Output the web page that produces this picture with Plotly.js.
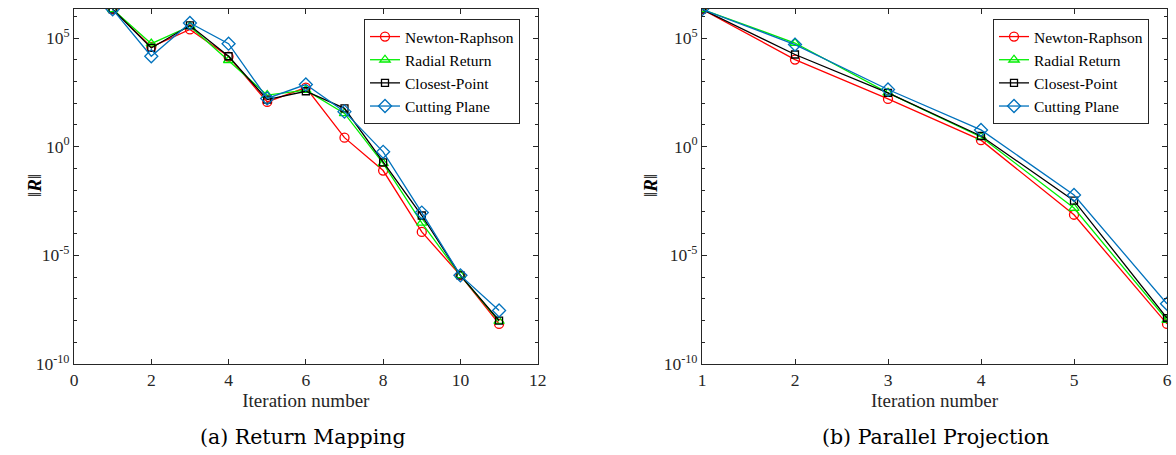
<!DOCTYPE html>
<html>
<head>
<meta charset="utf-8">
<script src="https://cdn.plot.ly/plotly-3.0.1.min.js"></script>
<style>html,body{margin:0;padding:0;background:#fff;}#chart{width:1176px;height:455px;}</style>
</head>
<body>
<div id="chart"></div>
<script>
// ---- data ----
const seriesNames = ["Newton-Raphson", "Radial Return", "Closest-Point", "Cutting Plane"];
const iterA = [1, 2, 3, 4, 5, 6, 7, 8, 9, 10, 11];
const nrA = [2.1e6, 3.9e4, 2.5e5, 1.4e4, 115, 525, 2.6, 0.08, 1.2e-4, 1.2e-6, 7e-9];
const rrA = [2.1e6, 5.5e4, 3.5e5, 9.5e3, 235, 400, 34, 0.17, 3.1e-4, 1.2e-6, 9.3e-9];
const cpA = [2.1e6, 3.5e4, 3.8e5, 1.45e4, 148, 355, 58, 0.19, 6.8e-4, 1.2e-6, 1.0e-8];
const cuA = [2.1e6, 1.45e4, 4.9e5, 5.5e4, 166, 725, 41, 0.58, 9.3e-4, 1.2e-6, 2.9e-8];

const iterB = [1, 2, 3, 4, 5, 6];
const nrB = [2.1e6, 1.02e4, 158, 2.0, 7.4e-4, 7e-9];
const rrB = [2.1e6, 5.9e4, 300, 2.8, 1.5e-3, 1.05e-8];
const cpB = [2.1e6, 1.75e4, 300, 3.1, 3.3e-3, 1.3e-8];
const cuB = [2.1e6, 5.0e4, 427, 5.9, 6.0e-3, 5.9e-8];

const yTickVals = [1e-10, 1e-5, 1, 1e5];
const yTickText = ["10<sup>-10</sup>", "10<sup>-5</sup>", "10<sup>0</sup>", "10<sup>5</sup>"];
const yMinorVals = [1e-9,1e-8,1e-7,1e-6,1e-4,1e-3,1e-2,1e-1,1e1,1e2,1e3,1e4,1e6];
const captions = ["(a) Return Mapping", "(b) Parallel Projection"];
const yTitle = "‖<b><i>R</i></b>‖";

// ---- styles ----
const colors = ["#ff0000", "#00ee00", "#000000", "#0072BD"];
const symbols = ["circle-open", "triangle-up-open", "square-open", "diamond-open"];
const sizes = [9, 9, 7, 10];
const FONT = "Liberation Serif";
const CAPFONT = "DejaVu Serif";

const dataA = [nrA, rrA, cpA, cuA];
const dataB = [nrB, rrB, cpB, cuB];
const traces = [];
dataA.forEach((ys, i) => traces.push({
  x: iterA, y: ys, type: "scatter", mode: "lines+markers", name: seriesNames[i],
  xaxis: "x", yaxis: "y", legend: "legend",
  line: {color: colors[i], width: 1.3},
  marker: {symbol: symbols[i], size: sizes[i], color: colors[i], line: {width: 1.3, color: colors[i]}}
}));
dataB.forEach((ys, i) => traces.push({
  x: iterB, y: ys, type: "scatter", mode: "lines+markers", name: seriesNames[i],
  xaxis: "x2", yaxis: "y2", legend: "legend2",
  line: {color: colors[i], width: 1.3},
  marker: {symbol: symbols[i], size: sizes[i], color: colors[i], line: {width: 1.3, color: colors[i]}}
}));

const W = 1176, H = 455;
const axCol = "#262626";
function yax(anchor) {
  return {
    type: "log", range: [-10, 6.35], anchor: anchor,
    domain: [(H - 364) / H, (H - 8.7) / H],
    tickmode: "array", tickvals: yTickVals, ticktext: yTickText,
    ticks: "inside", ticklen: 5, tickcolor: axCol, tickwidth: 1,
    showline: true, linecolor: axCol, linewidth: 1, mirror: "ticks",
    showgrid: false, zeroline: false,
    tickfont: {family: FONT, size: 17.5, color: axCol},
    minor: {tickmode: "array", tickvals: yMinorVals, ticks: "inside", ticklen: 3, tickcolor: axCol, showgrid: false}
  };
}
function xax(anchor, dom, rng, dt) {
  return {
    range: rng, dtick: dt, tick0: 0, anchor: anchor, domain: dom,
    ticks: "inside", ticklen: 5, tickcolor: axCol, tickwidth: 1,
    showline: true, linecolor: axCol, linewidth: 1, mirror: "ticks",
    showgrid: false, zeroline: false,
    tickfont: {family: FONT, size: 17.5, color: axCol},
    title: {text: "Iteration number", font: {family: FONT, size: 19, color: axCol}, standoff: 0}
  };
}
const legendBase = {
  font: {family: FONT, size: 15.5, color: "#000"},
  bgcolor: "#ffffff", bordercolor: axCol, borderwidth: 1,
  xanchor: "left", yanchor: "top", tracegroupgap: 0, itemwidth: 30
};

const layout = {
  width: W, height: H,
  margin: {l: 0, r: 0, t: 0, b: 0},
  paper_bgcolor: "#fff", plot_bgcolor: "#fff",
  showlegend: true,
  xaxis: xax("y", [74 / W, 537.7 / W], [0, 12], 2),
  yaxis: yax("x"),
  xaxis2: xax("y2", [702 / W, 1167 / W], [1, 6], 1),
  yaxis2: yax("x2"),
  legend: Object.assign({x: 364 / W, y: (H - 19) / H}, legendBase),
  legend2: Object.assign({x: 993 / W, y: (H - 19) / H}, legendBase),
  annotations: [
    {text: captions[0], xref: "paper", yref: "paper", x: 303 / W, y: (H - 437) / H, showarrow: false,
     xanchor: "center", yanchor: "middle", font: {family: CAPFONT, size: 20.5, color: "#000"}},
    {text: captions[1], xref: "paper", yref: "paper", x: 935 / W, y: (H - 437) / H, showarrow: false,
     xanchor: "center", yanchor: "middle", font: {family: CAPFONT, size: 20.5, color: "#000"}},
    {text: yTitle, xref: "paper", yref: "paper", x: 34 / W, y: (H - 186) / H, showarrow: false, textangle: -90,
     xanchor: "center", yanchor: "middle", font: {family: FONT, size: 19, color: "#000"}},
    {text: yTitle, xref: "paper", yref: "paper", x: 650 / W, y: (H - 186) / H, showarrow: false, textangle: -90,
     xanchor: "center", yanchor: "middle", font: {family: FONT, size: 19, color: "#000"}}
  ]
};

Plotly.newPlot("chart", traces, layout, {staticPlot: true, displayModeBar: false});
</script>
</body>
</html>
